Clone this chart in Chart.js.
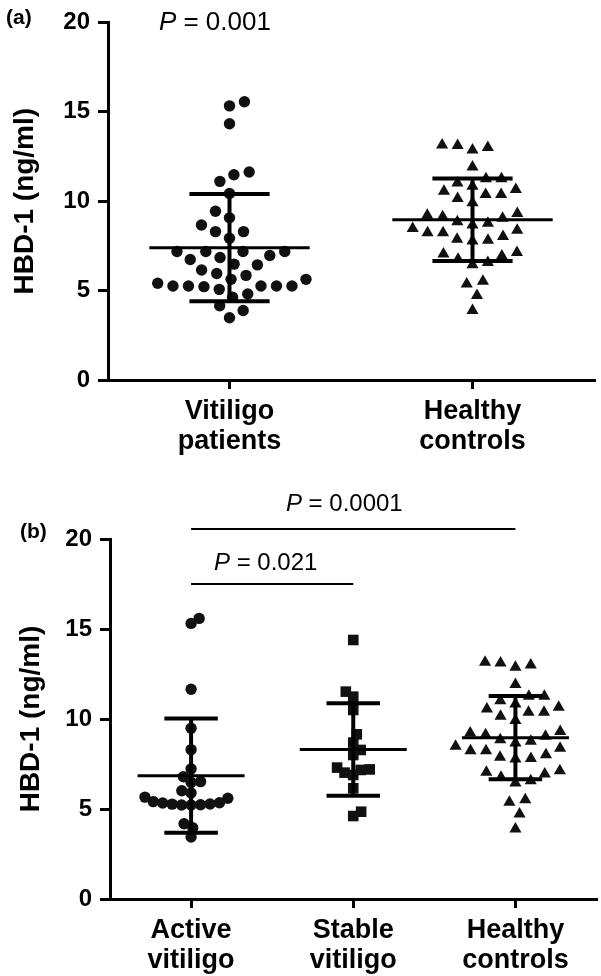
<!DOCTYPE html>
<html>
<head>
<meta charset="utf-8">
<script src="https://cdn.jsdelivr.net/npm/chart.js@4"></script>
<style>
html,body{margin:0;padding:0;background:#fff;overflow:hidden;width:601px;height:976px;position:relative;}
#wa{position:absolute;left:0;top:0;width:601px;height:470px;}
#wb{position:absolute;left:0;top:480px;width:604px;height:496px;}
.lab{position:absolute;font:bold 21px 'Liberation Sans',Arial,sans-serif;color:#000;line-height:1;}
</style>
</head>
<body>
<div id="wa"><canvas id="ca"></canvas></div>
<div id="wb"><canvas id="cb"></canvas></div>
<div class="lab" style="left:6px;top:6px">(a)</div>
<div class="lab" style="left:20px;top:520px">(b)</div>
<script>
// ---------------- data ----------------
const panelACategories = [['Vitiligo', 'patients'], ['Healthy', 'controls']];
const panelBCategories = [['Active', 'vitiligo'], ['Stable', 'vitiligo'], ['Healthy', 'controls']];
const yTickValues = [0, 5, 10, 15, 20];
const yAxisTitle = 'HBD-1 (ng/ml)';

const vitiligoPatients = [15.56, 15.33, 14.33, 11.63, 11.48, 11.11, 10.43, 9.44, 9.07, 8.67,
  8.30, 8.30, 7.93, 7.19, 7.19, 7.19, 7.19, 6.96, 6.85, 6.74,
  6.48, 6.44, 6.15, 5.96, 5.85, 5.63, 5.63, 5.41, 5.26, 5.26,
  5.26, 5.26, 5.26, 5.22, 5.07, 4.81, 4.63, 4.15, 3.89, 3.48];

const healthyControls = [13.11, 12.87, 13.00, 13.15, 11.91, 11.26, 11.26, 10.65, 10.83, 11.02,
  10.56, 10.37, 10.37, 10.15, 9.91, 9.31, 9.13, 8.85, 8.67, 8.76,
  9.04, 9.22, 8.48, 8.24, 8.02, 7.81, 7.78, 7.87, 8.24, 8.37,
  7.04, 6.76, 6.44, 6.57, 6.94, 7.13, 5.52, 5.37, 4.72, 3.89];

const activeVitiligo = [15.59, 15.31, 11.65, 9.49, 8.30, 7.23, 6.79, 6.52, 6.48, 6.01,
  5.89, 5.66, 5.60, 5.41, 5.35, 5.33, 5.28, 5.27, 5.24, 5.22,
  5.22, 4.18, 3.96, 3.44];

const stableVitiligo = [14.39, 11.52, 11.24, 10.50, 9.15, 8.69, 8.28, 8.00, 7.30, 7.20,
  7.17, 7.02, 6.89, 6.15, 4.85, 4.61];

const pValueA = '0.001';
const pValueB = ['0.0001', '0.021'];

// ---------------- helpers ----------------
const FONT = "'Liberation Sans', Arial, Helvetica, sans-serif";
Chart.defaults.font.family = FONT;
Chart.defaults.color = '#000';

function mean(a) { return a.reduce((s, v) => s + v, 0) / a.length; }
function sd(a) { const m = mean(a); return Math.sqrt(a.reduce((s, v) => s + (v - m) * (v - m), 0) / (a.length - 1)); }

function seg(x1, y1, x2, y2, w) {
  return { data: [{ x: x1, y: y1 }, { x: x2, y: y2 }], showLine: true, borderColor: '#000',
    backgroundColor: '#000', borderWidth: w, pointRadius: 0, pointHoverRadius: 0,
    borderCapStyle: 'butt', order: 1, clip: false };
}

function groupDatasets(values, idx, style, radius) {
  const m = mean(values), s = sd(values);
  return [
    { data: values.map(v => ({ x: idx, y: v })), pointStyle: style, pointRadius: radius,
      pointHoverRadius: radius, backgroundColor: '#111', borderColor: '#111', borderWidth: 0,
      showLine: false, order: 2, clip: false },
    seg(idx - 0.33, m, idx + 0.33, m, 3),
    seg(idx, m - s, idx, m + s, 4),
    seg(idx - 0.165, m + s, idx + 0.165, m + s, 4),
    seg(idx - 0.165, m - s, idx + 0.165, m - s, 4)
  ];
}

// beeswarm layout: horizontal offsets so that points do not overlap
function swarm(values, xs, ys, dist) {
  const pxPerX = Math.abs(xs.getPixelForValue(1) - xs.getPixelForValue(0));
  const order = values.map((v, i) => i).sort((a, b) => values[a] - values[b]);
  const placed = [];
  const off = new Array(values.length).fill(0);
  let flip = 1;
  for (const i of order) {
    const y = ys.getPixelForValue(values[i]);
    const cands = [0];
    for (const p of placed) {
      const dy = y - p.y;
      if (Math.abs(dy) < dist) {
        const dx = Math.sqrt(dist * dist - dy * dy);
        cands.push(p.x + dx, p.x - dx);
      }
    }
    cands.sort((a, b) => (Math.abs(a) - Math.abs(b)) || (flip * (a - b)));
    let chosen = 0;
    for (const c of cands) {
      if (placed.every(p => (c - p.x) ** 2 + (y - p.y) ** 2 >= dist * dist - 0.01)) { chosen = c; break; }
    }
    flip = -flip;
    placed.push({ x: chosen, y });
    off[i] = chosen / pxPerX;
  }
  return off;
}

const sigPlugin = {
  id: 'sig',
  afterDraw(chart, args, opts) {
    const { ctx } = chart;
    const xs = chart.scales.x, ys = chart.scales.y;
    ctx.save();
    for (const it of (opts.items || [])) {
      if (it.from !== undefined) {
        const y = ys.getPixelForValue(it.level);
        ctx.strokeStyle = '#000';
        ctx.lineWidth = 2;
        ctx.beginPath();
        ctx.moveTo(xs.getPixelForValue(it.from), y);
        ctx.lineTo(xs.getPixelForValue(it.to), y);
        ctx.stroke();
      }
      const size = it.size || 24;
      const fi = 'italic ' + size + 'px ' + FONT;
      const fr = size + 'px ' + FONT;
      ctx.font = fi; const wP = ctx.measureText('P').width;
      const rest = ' = ' + it.text;
      ctx.font = fr; const wR = ctx.measureText(rest).width;
      const cx = xs.getPixelForValue(it.textX);
      const cy = ys.getPixelForValue(it.textLevel);
      let x0 = cx - (wP + wR) / 2;
      ctx.fillStyle = '#000';
      ctx.textBaseline = 'middle';
      ctx.textAlign = 'left';
      ctx.font = fi; ctx.fillText('P', x0, cy);
      ctx.font = fr; ctx.fillText(rest, x0 + wP, cy);
    }
    ctx.restore();
  }
};

function makeChart(canvasId, cats, groups, lay) {
  const datasets = [];
  groups.forEach((g, i) => datasets.push(...groupDatasets(g.values, i, g.style, g.radius)));
  const chart = new Chart(document.getElementById(canvasId), {
    type: 'scatter',
    data: { datasets },
    plugins: [sigPlugin],
    options: {
      responsive: true, maintainAspectRatio: false, animation: false,
      devicePixelRatio: 1,
      layout: { padding: { top: lay.top, left: 0, right: 0, bottom: 0 } },
      plugins: { legend: { display: false }, tooltip: { enabled: false }, sig: { items: lay.items } },
      events: [],
      scales: {
        x: {
          type: 'linear', min: -0.5, max: cats.length - 0.5,
          afterBuildTicks: s => { s.ticks = cats.map((c, i) => ({ value: i })); },
          afterFit: s => { s.height = lay.xHeight; },
          ticks: {
            callback: v => cats[Math.round(v)],
            font: { family: FONT, size: 27, weight: 'bold', lineHeight: 1.1 },
            color: '#000', padding: 8, maxRotation: 0, minRotation: 0, autoSkip: false
          },
          grid: { display: true, drawOnChartArea: false, drawTicks: true, tickLength: 9, lineWidth: 3, color: '#000' },
          border: { display: true, width: 3, color: '#000' }
        },
        y: {
          type: 'linear', min: 0, max: 20,
          afterBuildTicks: s => { s.ticks = yTickValues.map(v => ({ value: v })); },
          afterFit: s => { s.width = lay.yWidth; },
          ticks: { font: { family: FONT, size: 24, weight: 'bold' }, color: '#000', padding: 8 },
          grid: { display: true, drawOnChartArea: false, drawTicks: true, tickLength: 10, lineWidth: 3, color: '#000' },
          border: { display: true, width: 3, color: '#000' },
          title: { display: true, text: yAxisTitle, color: '#000',
            font: { family: FONT, size: 28, weight: 'bold', lineHeight: 1.2 },
            padding: { top: lay.titlePad, bottom: 0 } }
        }
      }
    }
  });
  groups.forEach((g, i) => {
    const off = swarm(g.values, chart.scales.x, chart.scales.y, g.dist);
    chart.data.datasets[i * 5].data = g.values.map((v, k) => ({ x: i + off[k], y: v }));
  });
  chart.update('none');
  return chart;
}

makeChart('ca', panelACategories, [
  { values: vitiligoPatients, style: 'circle', radius: 5.7, dist: 15.5 },
  { values: healthyControls, style: 'triangle', radius: 7, dist: 15.5 }
], {
  top: 20, xHeight: 90, yWidth: 108, titlePad: 8,
  items: [{ text: pValueA, textX: -0.06, textLevel: 20, size: 26 }]
});

makeChart('cb', panelBCategories, [
  { values: activeVitiligo, style: 'circle', radius: 5.7, dist: 9.5 },
  { values: stableVitiligo, style: 'rect', radius: 7.5, dist: 9 },
  { values: healthyControls, style: 'triangle', radius: 7, dist: 15.5 }
], {
  top: 59, xHeight: 77, yWidth: 110, titlePad: 14,
  items: [
    { from: 0, to: 2, level: 20.55, text: pValueB[0], textX: 0.945, textLevel: 21.9, size: 24 },
    { from: 0, to: 1, level: 17.5, text: pValueB[1], textX: 0.46, textLevel: 18.67, size: 24 }
  ]
});
</script>
</body>
</html>
